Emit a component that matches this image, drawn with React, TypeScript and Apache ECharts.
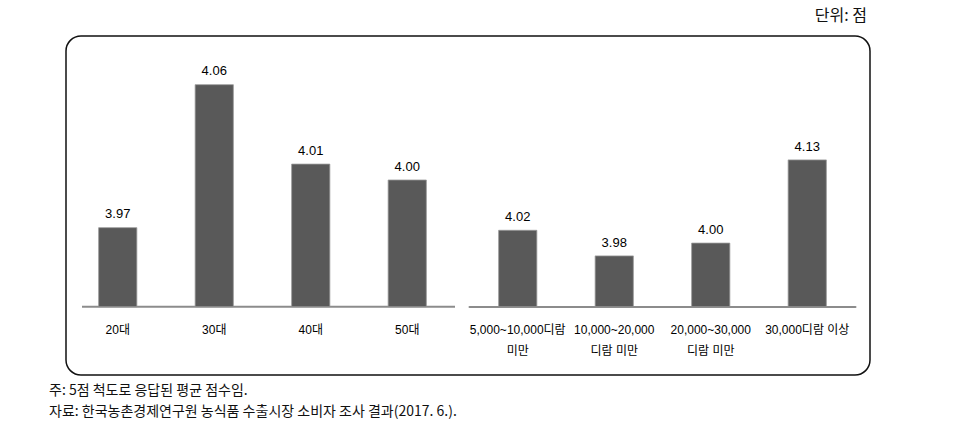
import React, { useEffect, useRef } from "react";
import * as echarts from "echarts";

const ageCategories = ["20대", "30대", "40대", "50대"];
const ageValues = [3.97, 4.06, 4.01, 4.0];
const incomeCategories = [
  "5,000~10,000디람\n미만",
  "10,000~20,000\n디람 미만",
  "20,000~30,000\n디람 미만",
  "30,000디람 이상",
];
const incomeValues = [4.02, 3.98, 4.0, 4.13];
const unitText = "단위: 점";
const noteText = "주: 5점 척도로 응답된 평균 점수임.";
const sourceText = "자료: 한국농촌경제연구원 농식품 수출시장 소비자 조사 결과(2017. 6.).";

const FONT = "'Liberation Sans', Arial, 'Noto Sans CJK KR', sans-serif";
const KFONT = "'Noto Sans CJK KR', sans-serif";
const BAR = "#595959";

export default function App() {
  const ref = useRef<HTMLDivElement>(null);
  useEffect(() => {
    if (!ref.current) return;
    const chart = echarts.init(ref.current, null, { renderer: "svg" });
    const labelStyle = {
      show: true,
      position: "top" as const,
      distance: 7,
      fontFamily: FONT,
      fontSize: 13,
      color: "#000",
      formatter: (p: any) => p.value.toFixed(2),
    };
    const axisLabel = {
      margin: 13,
      fontFamily: FONT,
      fontSize: 12,
      lineHeight: 21,
      color: "#000",
      interval: 0,
    };
    chart.setOption({
      animation: false,
      grid: [
        { left: 69.5, width: 386, top: 52.5, height: 254.2 },
        { left: 469.5, width: 386, top: 50.7, height: 256 },
      ],
      xAxis: [
        {
          type: "category",
          gridIndex: 0,
          data: ageCategories,
          axisLine: { show: false },
          axisTick: { show: false },
          axisLabel,
        },
        {
          type: "category",
          gridIndex: 1,
          data: incomeCategories,
          axisLine: { show: true, lineStyle: { color: "#8c8c8c", width: 2 } },
          axisTick: { show: false },
          axisLabel,
        },
      ],
      yAxis: [
        { type: "value", gridIndex: 0, min: 3.92, max: 4.08, show: false },
        { type: "value", gridIndex: 1, min: 3.9, max: 4.3, show: false },
      ],
      series: [
        {
          type: "bar",
          xAxisIndex: 0,
          yAxisIndex: 0,
          data: ageValues,
          barWidth: 39,
          itemStyle: { color: BAR, borderColor: "#999", borderWidth: 0.8 },
          label: labelStyle,
        },
        {
          type: "bar",
          xAxisIndex: 1,
          yAxisIndex: 1,
          data: incomeValues,
          barWidth: 39,
          itemStyle: { color: BAR, borderColor: "#999", borderWidth: 0.8 },
          label: labelStyle,
        },
      ],
      graphic: [
        {
          type: "rect",
          shape: { x: 66, y: 36, width: 804, height: 339, r: 15 },
          style: { fill: "none", stroke: "#111", lineWidth: 1.5 },
          z: -1,
        },
        {
          type: "line",
          shape: { x1: 82, y1: 306.7, x2: 455, y2: 306.7 },
          style: { stroke: "#8c8c8c", lineWidth: 2 },
        },
        {
          type: "text",
          right: 93,
          top: 6,
          style: { text: unitText, fontFamily: KFONT, fontSize: 16, fill: "#111" },
        },
        {
          type: "text",
          left: 49,
          top: 382,
          style: { text: noteText, fontFamily: KFONT, fontSize: 14, fill: "#111" },
        },
        {
          type: "text",
          left: 49,
          top: 403,
          style: { text: sourceText, fontFamily: KFONT, fontSize: 14, fill: "#111" },
        },
      ],
    });
    return () => chart.dispose();
  }, []);
  return (
    <div
      ref={ref}
      style={{ position: "absolute", left: 0, top: 0, width: 960, height: 434 }}
    />
  );
}
